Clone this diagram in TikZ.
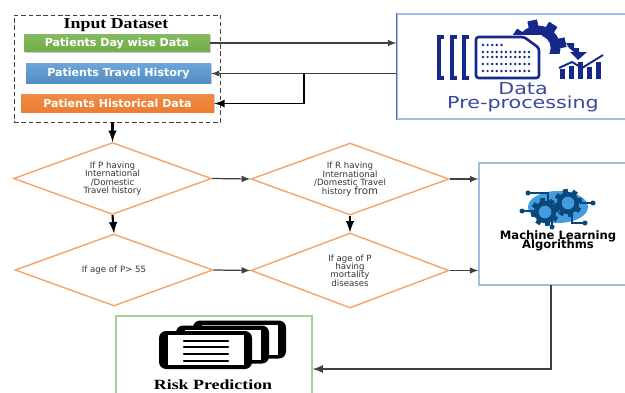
\documentclass[tikz,border=0pt]{standalone}
\usepackage{fontspec}
\setmainfont{DejaVu Sans}
\newfontfamily\serifbold[Scale=1]{Liberation Serif}
\usetikzlibrary{positioning,shapes,shapes.geometric,arrows,shadows,calc}
\definecolor{BoxGreen}{rgb}{0.4392157,0.6784314,0.2784314}
\definecolor{BoxBlue}{rgb}{0.3568627,0.6078431,0.8352941}
\definecolor{BoxOrange}{rgb}{0.9294118,0.4901961,0.1921569}
\definecolor{DiamondOrange}{rgb}{0.9568627,0.6431373,0.4196078}
\definecolor{FrameBlue}{rgb}{0.6274510,0.7411765,0.8941176}
\definecolor{FrameGreen}{rgb}{0.6627451,0.8196078,0.5568627}
\definecolor{IconNavy}{rgb}{0.0862745,0.1568627,0.5411765}
\definecolor{IconBlue}{rgb}{0.2705882,0.6117647,0.8627451}
\definecolor{IconDark}{rgb}{0.0352941,0.2823529,0.4862745}
\tikzset{
  databox/.style={rectangle, minimum height=0.36cm, inner sep=0pt, text=white, drop shadow={shadow xshift=0.3pt, shadow yshift=-0.5pt, opacity=0.4},
    font=\fontsize{6.3}{6}\selectfont\bfseries},
  check/.style={diamond, draw=DiamondOrange, line width=0.8pt, inner sep=0pt, aspect=2.7, minimum width=3.96cm, minimum height=1.44cm, align=center,
    text=black!80, font={\fontsize{4.9}{4.8}\selectfont\lineskiplimit-5pt}},
  frame/.style={rectangle, line width=0.7pt, inner sep=0pt},
  link/.style={-latex, line width=0.7pt, black!75},
  heavy/.style={-latex, line width=1.2pt, black},
  caption/.style={inner sep=0pt, align=center}
}
\newcommand{\gearicon}[5]{
  \foreach \ang in {0,45,...,315} {
    \fill[#4, rotate around={\ang+12:(#1,#2)}] ($(#1,#2)+(-0.17*#3,-1.0*#3)$) rectangle ($(#1,#2)+(0.17*#3,1.0*#3)$);
  }
  \fill[#4] (#1,#2) circle[radius=0.8*#3*0.02cm];
  \fill[#5] (#1,#2) circle[radius=0.45*#3*0.02cm];
}
\begin{document}
\begin{tikzpicture}[x=0.02cm, y=-0.02cm]
  \clip (0,0) rectangle (625,392);
  \fill[white] (0,0) rectangle (625,392);

  % input dataset
  \node[rectangle, draw=black!75, dash pattern=on 2.6pt off 1.6pt, line width=0.55pt, minimum width=4.14cm, minimum height=2.14cm] (dataset) at (117.5,68.5) {};
  \node[caption, font=\fontsize{8.6}{9}\serifbold\bfseries] (title) at (116,25) {\scalebox{1.18}[1]{Input Dataset}};
  \node[databox, minimum width=3.72cm, top color=BoxGreen!85, bottom color=BoxGreen] (green) at (117,43) {Patients Day wise Data};
  \node[databox, minimum width=3.7cm, minimum height=0.4cm, top color=BoxBlue!90, bottom color=BoxBlue!90!black] (blue) at (118.5,73.5) {Patients Travel History};
  \node[databox, minimum width=3.86cm, top color=BoxOrange!90, bottom color=BoxOrange] (orange) at (117.5,103.5) {Patients Historical Data};

  % pre-processing
  \node[frame, draw=FrameBlue, minimum width=5cm, minimum height=2.1cm] (prep) at (522,66.5) {};
  \draw[line width=0.7pt, IconNavy!70] (prep.north west) -- (prep.south west);
  \foreach \bx in {439,452,464} {
    \draw[IconNavy, line width=1.8pt] (\bx+5,37) -- (\bx,37) -- (\bx,78) -- (\bx+5,78);
  }
  \gearicon{538}{48}{28}{IconNavy}{white}
  \fill[white] (472,35) rectangle (542,82);
  \fill[white] (541,54) rectangle (605,82);
  \draw[IconNavy, line width=1.5pt, rounded corners=1.5pt, fill=white] (476,37) -- (524,37) -- (539,48) -- (539,78) -- (476,78) -- cycle;
  \foreach \dy in {52,57,64,71} {
    \foreach \dx in {0,...,10} {
      \fill[IconNavy] (483+\dx*4.6,\dy) circle[radius=0.027cm];
    }
  }
  \foreach \dx in {0,...,4} {
    \fill[IconNavy] (483+\dx*4.6,45) circle[radius=0.027cm];
  }
  \fill[IconNavy] (566,43) -- (574,43) -- (574,48) -- (579,48) -- (579,52) -- (587,52) -- (578,60) -- (570,52) -- (574,52) -- (569,48) -- cycle;
  \foreach \bx/\by in {560/69,569/66,578/62,587/67,596/62} {
    \fill[IconNavy] (\bx,\by) rectangle (\bx+5,79);
  }
  \draw[IconNavy, line width=1.1pt] (559,68) -- (572,62) -- (582,68) -- (603,55);
  \node[caption, text=IconNavy!85, font={\fontsize{9.4}{8}\selectfont\lineskiplimit-5pt}] (preptext) at (523,97) {\scalebox{1.25}[1]{Data}\\\scalebox{1.25}[1]{Pre-processing}};

  % checks
  \node[check] (d1) at (112.5,178.5) {If P having\\International\\/Domestic\\Travel history};
  \node[check] (d2) at (114,270) {If age of P> 55};
  \node[check] (d3) at (350,179) {If R having\\International\\/Domestic Travel\\history {\fontsize{5.8}{4.8}\selectfont from}};
  \node[check, minimum height=1.5cm] (d4) at (350,270.5) {If age of P\\having\\mortality\\diseases};

  % machine learning
  \node[frame, draw=FrameBlue, minimum width=4cm, minimum height=2.44cm] (ml) at (579,224) {};
  \fill[IconBlue] (558,207) ellipse[x radius=0.6cm, y radius=0.32cm];
  \draw[IconDark, line width=0.7pt] (528,193) -- (548,193) -- (548,205) (522,211) -- (535,211) (593,203) -- (580,203) (585,223) -- (572,223) -- (572,212) (552,227) -- (552,220);
  \foreach \cx/\cy in {528/193,522/211,593/203,585/223,552/227} {
    \fill[IconDark] (\cx,\cy) circle[radius=0.05cm];
  }
  \gearicon{545}{212}{14}{IconDark}{IconBlue}
  \gearicon{568}{203}{14}{IconDark}{IconBlue}
  \node[caption, text=black, font={\fontsize{6.6}{5.2}\selectfont\bfseries\lineskiplimit-5pt}] (mltext) at (558,240.5) {Machine Learning\\Algorithms};

  % risk prediction
  \node[frame, draw=FrameGreen, minimum width=3.92cm, minimum height=2.12cm] (risk) at (214,369) {};
  \foreach \cx/\cy in {239.5/339.5,222.5/344.5,205.5/350} {
    \fill[black, rounded corners=4pt] (\cx-46.5,\cy-19) rectangle (\cx+46.5,\cy+19);
    \fill[white] (\cx-38,\cy-15) rectangle (\cx+38,\cy+15);
  }
  \foreach \ly in {341,347,354,361} {
    \draw[black, line width=1.4pt, line cap=round] (184,\ly) -- (228,\ly);
  }
  \node[caption, font=\fontsize{8}{9}\serifbold\bfseries] (risktext) at (213,384.5) {\scalebox{1.27}[1]{Risk Prediction}};

  % connectors
  \coordinate (branch) at (304,73.5);
  \coordinate (mlout) at (551,285);
  \draw[link] (green.east) -- (prep.west |- green.east);
  \draw[link, line width=0.6pt] (prep.west |- blue.east) -- (blue.east);
  \draw[link, line width=1pt, black] (branch) |- (orange.east);
  \draw[heavy] (dataset.south -| d1.north) -- (d1.north);
  \draw[heavy] (d1.south) -- (d2.north);
  \draw[heavy] (d3.south) -- (d4.north);
  \draw[link] (d1.east) -- (d3.west);
  \draw[link] (d2.east) -- (d4.west);
  \draw[link] (d3.east) -- (ml.west |- d3.east);
  \draw[link] (d4.east) -- (ml.west |- d4.east);
  \draw[link, line width=1pt] (mlout) |- (risk.east);
\end{tikzpicture}
\end{document}
